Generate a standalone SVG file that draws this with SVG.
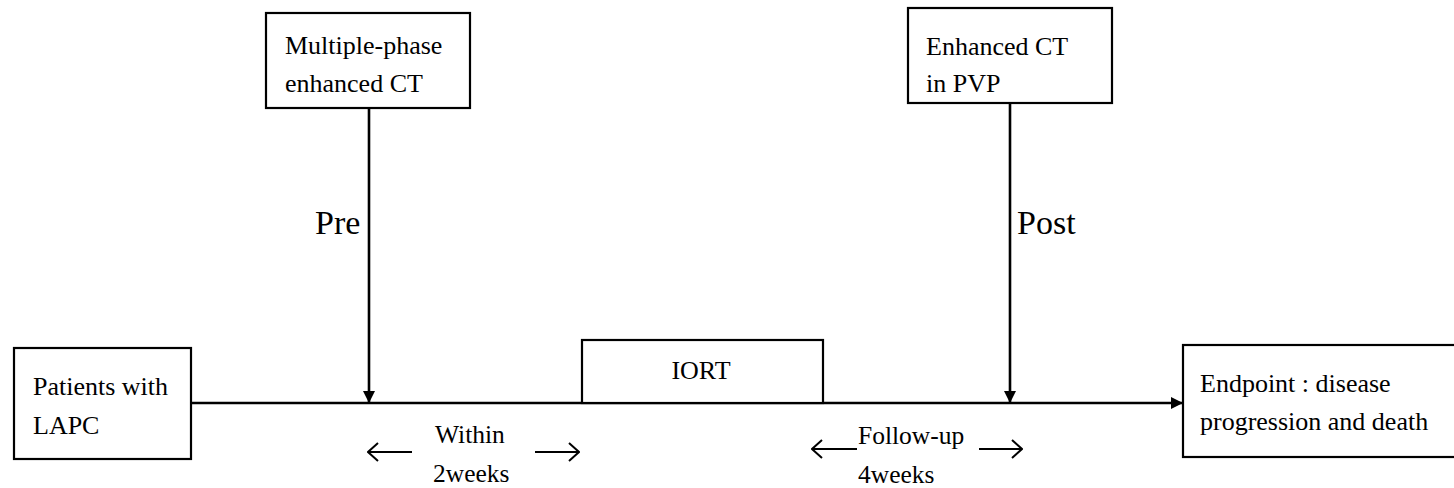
<svg xmlns="http://www.w3.org/2000/svg" width="1454" height="488" viewBox="0 0 1454 488">
  <style>
    .box { fill: #ffffff; stroke: #000000; stroke-width: 2.2; }
    .t { font-family: "Liberation Serif", "DejaVu Serif", serif; font-size: 25.5px; fill: #000000; }
    .bt { font-family: "Liberation Serif", "DejaVu Serif", serif; font-size: 26px; fill: #000000; }
    .big { font-family: "Liberation Serif", "DejaVu Serif", serif; font-size: 34px; fill: #000000; }
    .line { stroke: #000000; stroke-width: 2.6; fill: none; }
    .thin { stroke: #000000; stroke-width: 2; fill: none; }
  </style>
  <defs>
    <marker id="solid" viewBox="0 0 12 12" refX="12" refY="6" markerWidth="12" markerHeight="12" markerUnits="userSpaceOnUse" orient="auto">
      <path d="M0,0 L12,6 L0,12 Z" fill="#000000"/>
    </marker>
    <marker id="open" viewBox="0 0 12 20" refX="11" refY="10" markerWidth="12" markerHeight="20" markerUnits="userSpaceOnUse" orient="auto-start-reverse">
      <path d="M1,1 L11,10 L1,19" fill="none" stroke="#000000" stroke-width="2"/>
    </marker>
  </defs>
  <rect width="1454" height="488" fill="#ffffff"/>

  <g id="connectors">
    <line class="line" x1="191" y1="403" x2="1183" y2="403" marker-end="url(#solid)"/>
    <line class="line" x1="369" y1="108" x2="369" y2="403" marker-end="url(#solid)"/>
    <line class="line" x1="1010" y1="103" x2="1010" y2="403" marker-end="url(#solid)"/>
    <line class="thin" x1="412" y1="452" x2="368" y2="452" marker-end="url(#open)"/>
    <line class="thin" x1="535" y1="452" x2="579" y2="452" marker-end="url(#open)"/>
    <line class="thin" x1="857" y1="449" x2="812" y2="449" marker-end="url(#open)"/>
    <line class="thin" x1="979" y1="449" x2="1022" y2="449" marker-end="url(#open)"/>
  </g>

  <g id="node-patients">
    <rect class="box" x="14" y="348" width="177" height="111"/>
    <text class="bt" x="33" y="395">Patients with</text>
    <text class="bt" x="33" y="434">LAPC</text>
  </g>

  <g id="node-multiphase">
    <rect class="box" x="266" y="13" width="204" height="95"/>
    <text class="bt" x="285" y="54">Multiple-phase</text>
    <text class="bt" x="285" y="92">enhanced CT</text>
  </g>

  <g id="node-pvp">
    <rect class="box" x="908" y="8" width="204" height="95"/>
    <text class="bt" x="926" y="55">Enhanced CT</text>
    <text class="bt" x="926" y="92">in PVP</text>
  </g>

  <g id="node-iort">
    <rect class="box" x="582" y="340" width="241" height="63"/>
    <text class="bt" x="701" y="379" text-anchor="middle">IORT</text>
  </g>

  <g id="node-endpoint">
    <rect class="box" x="1183" y="345" width="290" height="112"/>
    <text class="bt" x="1200" y="392">Endpoint : disease</text>
    <text class="bt" x="1200" y="430">progression and death</text>
  </g>

  <g id="labels">
    <text class="big" x="315" y="234">Pre</text>
    <text class="big" x="1017" y="234">Post</text>
    <text class="t" x="435" y="443">Within</text>
    <text class="t" x="433" y="482">2weeks</text>
    <text class="t" x="858" y="444">Follow-up</text>
    <text class="t" x="858" y="483">4weeks</text>
  </g>
</svg>
